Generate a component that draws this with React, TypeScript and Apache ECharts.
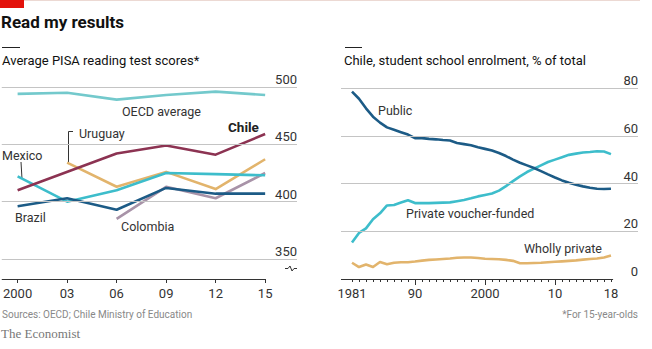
import React, { useEffect, useRef } from 'react';
import * as echarts from 'echarts';

// ---------- Left chart: PISA reading scores ----------
const yearsL = [2000, 2003, 2006, 2009, 2012, 2015];
const oecd = [494, 495, 489, 493, 496, 493];
const chile = [410, null, 442, 449, 441, 459];
const uruguay = [null, 434, 413, 426, 411, 437];
const mexico = [422, 400, 410, 425, 424, 423];
const brazil = [396, 403, 393, 412, 407, 407];
const colombia = [null, null, 385, 413, 403, 425];
const ticksL = [350, 400, 450, 500];

// ---------- Right chart: Chile enrolment ----------
const yearsR = [
  1981, 1982, 1983, 1984, 1985, 1986, 1987, 1988, 1989, 1990,
  1991, 1992, 1993, 1994, 1995, 1996, 1997, 1998, 1999, 2000,
  2001, 2002, 2003, 2004, 2005, 2006, 2007, 2008, 2009, 2010,
  2011, 2012, 2013, 2014, 2015, 2016, 2017, 2018,
];
const publicShare = [
  78.5, 75.5, 71.5, 68.0, 65.5, 63.5, 62.5, 61.5, 60.5, 59.0,
  59.0, 58.7, 58.5, 58.2, 58.0, 57.0, 56.5, 56.0, 55.2, 54.5,
  53.8, 52.8, 51.5, 50.0, 48.7, 47.6, 46.5, 45.2, 43.8, 42.5,
  41.3, 40.3, 39.5, 38.8, 38.2, 37.8, 37.7, 37.8,
];
const voucherShare = [
  15.3, 19.3, 21.2, 25.0, 27.5, 30.8, 31.0, 32.0, 33.0, 31.8,
  31.8, 31.8, 31.9, 32.0, 32.1, 32.6, 33.1, 33.8, 34.6, 35.2,
  35.8, 37.0, 38.9, 41.0, 43.0, 44.8, 46.2, 47.6, 49.0, 50.0,
  51.0, 52.0, 52.5, 53.0, 53.2, 53.5, 53.4, 52.3,
];
const privateShare = [
  6.8, 5.0, 6.1, 5.0, 7.1, 6.2, 6.8, 7.0, 7.0, 7.3,
  7.7, 8.0, 8.2, 8.4, 8.6, 8.9, 9.0, 9.0, 8.8, 8.5,
  8.4, 8.3, 8.0, 7.6, 6.6, 6.6, 6.7, 6.8, 7.0, 7.2,
  7.4, 7.6, 7.8, 8.1, 8.4, 8.6, 9.0, 9.8,
];
const ticksR = [0, 20, 40, 60, 80];
const labelYearsR = [1981, 1990, 2000, 2010, 2018];
const majorYearsR = [1990, 2000, 2010];

const FONT = 'Roboto, "Noto Sans", sans-serif';

const C_CHILE = '#8c3352';
const C_CYAN = '#3dbdcb';
const C_OECD = '#73c9cc';
const C_BLUE = '#1c5b86';
const C_TAN = '#e2b46c';
const C_MAUVE = '#a893a8';

const L_XMIN = 1999.04;
const L_XMAX = 2016.93;
const L_YMIN = 332.6;
const R_XMIN = 1979.43;
const R_XMAX = 2021.86;

const pairs = (xs: number[], ys: (number | null)[]) =>
  xs.map((x, i) => [x, ys[i]]).filter((p) => p[1] !== null);

const lineSeries = (name: string, data: any[], color: string, xi: number, yi: number, extra: any = {}) => ({
  name,
  type: 'line',
  xAxisIndex: xi,
  yAxisIndex: yi,
  data,
  symbol: 'none',
  silent: true,
  lineStyle: { color, width: 2.6, join: 'round' },
  ...extra,
});

const fmtL = (v: number) => (v === 2000 ? '2000' : String(v % 100).padStart(2, '0'));
const fmtR = (v: number) => (v === 1981 || v === 2000 ? String(v) : String(v % 100).padStart(2, '0'));

const txt = (text: string, x: number, y: number, extra: any = {}) => ({
  type: 'text',
  x,
  y,
  silent: true,
  style: {
    text,
    fill: '#222',
    font: `12.5px ${FONT}`,
    textVerticalAlign: 'middle',
    ...extra,
  },
});

const axisLabelStyle = { color: '#333', fontSize: 13, fontFamily: FONT };

const option: any = {
  animation: false,
  backgroundColor: '#ffffff',
  textStyle: { fontFamily: FONT },
  grid: [
    { left: 0, top: 87, width: 297, height: 192 },
    { left: 341, top: 88, width: 297, height: 191 },
  ],
  xAxis: [
    {
      gridIndex: 0,
      type: 'value',
      min: L_XMIN,
      max: L_XMAX,
      position: 'bottom',
      axisLine: { show: false },
      splitLine: { show: false },
      axisTick: { show: true, customValues: yearsL, length: 4, lineStyle: { color: '#333' } },
      axisLabel: { customValues: yearsL, formatter: fmtL, margin: 8, ...axisLabelStyle },
    },
    {
      gridIndex: 1,
      type: 'value',
      min: R_XMIN,
      max: R_XMAX,
      position: 'bottom',
      offset: 0,
      axisLine: { show: false },
      splitLine: { show: false },
      axisTick: { show: true, customValues: yearsR, length: 3, lineStyle: { color: '#333' } },
      axisLabel: { show: false },
    },
    {
      gridIndex: 1,
      type: 'value',
      min: R_XMIN,
      max: R_XMAX,
      position: 'bottom',
      offset: 0,
      axisLine: { show: false },
      splitLine: { show: false },
      axisTick: { show: true, customValues: majorYearsR, length: 6, lineStyle: { color: '#333' } },
      axisLabel: { customValues: labelYearsR, formatter: fmtR, margin: 8, ...axisLabelStyle },
    },
  ],
  yAxis: [
    {
      gridIndex: 0,
      type: 'value',
      min: L_YMIN,
      max: 500,
      position: 'right',
      axisLine: { show: false },
      axisTick: { show: false },
      splitLine: { show: false },
      axisLabel: {
        customValues: ticksL,
        inside: true,
        margin: 0,
        align: 'right',
        verticalAlign: 'bottom',
        padding: [0, 0, 1, 0],
        ...axisLabelStyle,
      },
    },
    {
      gridIndex: 1,
      type: 'value',
      min: 0,
      max: 80,
      interval: 20,
      position: 'right',
      axisLine: { show: false },
      axisTick: { show: false },
      splitLine: { show: false },
      axisLabel: {
        customValues: ticksR,
        inside: true,
        margin: 0,
        align: 'right',
        verticalAlign: 'bottom',
        padding: [0, 0, 1, 0],
        ...axisLabelStyle,
      },
    },
  ],
  series: [
    lineSeries('OECD average', pairs(yearsL, oecd), C_OECD, 0, 0, {
      markLine: {
        silent: true,
        symbol: 'none',
        label: { show: false },
        lineStyle: { color: '#c4c4c4', width: 1, type: 'solid' },
        data: [
          ...ticksL.map((v) => ({ yAxis: v })),
          [
            { coord: [L_XMIN, L_YMIN], lineStyle: { color: '#333', width: 1, type: 'solid' } },
            { coord: [2015, L_YMIN] },
          ],
        ],
      },
    }),
    lineSeries('Colombia', pairs(yearsL, colombia), C_MAUVE, 0, 0),
    lineSeries('Uruguay', pairs(yearsL, uruguay), C_TAN, 0, 0),
    lineSeries('Mexico', pairs(yearsL, mexico), C_CYAN, 0, 0),
    lineSeries('Brazil', pairs(yearsL, brazil), C_BLUE, 0, 0),
    lineSeries('Chile', pairs(yearsL, chile), C_CHILE, 0, 0),
    lineSeries('Wholly private', pairs(yearsR, privateShare), C_TAN, 1, 1, {
      markLine: {
        silent: true,
        symbol: 'none',
        label: { show: false },
        lineStyle: { color: '#c4c4c4', width: 1, type: 'solid' },
        data: [
          ...ticksR.filter((v) => v > 0).map((v) => ({ yAxis: v })),
          [
            { coord: [R_XMIN, 0], lineStyle: { color: '#333', width: 1, type: 'solid' } },
            { coord: [2018.3, 0] },
          ],
        ],
      },
    }),
    lineSeries('Private voucher-funded', pairs(yearsR, voucherShare), C_CYAN, 1, 1),
    lineSeries('Public', pairs(yearsR, publicShare), C_BLUE, 1, 1),
  ],
  graphic: [
    { type: 'rect', silent: true, shape: { x: 0, y: 0, width: 24, height: 8 }, style: { fill: '#e3120b' } },
    { type: 'line', silent: true, shape: { x1: 24, y1: 0.5, x2: 640, y2: 0.5 }, style: { stroke: '#ecd9d3', lineWidth: 1 } },
    { type: 'line', silent: true, shape: { x1: 2, y1: 47.5, x2: 20, y2: 47.5 }, style: { stroke: '#222', lineWidth: 1 } },
    { type: 'line', silent: true, shape: { x1: 345, y1: 47.5, x2: 362, y2: 47.5 }, style: { stroke: '#222', lineWidth: 1 } },
    txt('Read my results', 1, 22, { font: `bold 17px ${FONT}`, fill: '#111' }),
    txt('Average PISA reading test scores*', 2, 60, { font: `13px ${FONT}`, fill: '#111' }),
    txt('Chile, student school enrolment, % of total', 344, 60, { font: `13px ${FONT}`, fill: '#111' }),
    txt('OECD average', 122, 111, { fill: '#333' }),
    txt('Chile', 228, 127, { font: `bold 13.5px ${FONT}`, fill: '#222' }),
    txt('Uruguay', 79, 133, { fill: '#333' }),
    txt('Mexico', 2, 155, { fill: '#333' }),
    txt('Brazil', 15, 217, { fill: '#333' }),
    txt('Colombia', 121, 226, { fill: '#333' }),
    txt('Public', 378, 110, { fill: '#333' }),
    txt('Private voucher-funded', 406, 213, { fill: '#333' }),
    txt('Wholly private', 524, 248, { fill: '#333' }),
    txt('Sources: OECD; Chile Ministry of Education', 2, 314, { font: `10px ${FONT}`, fill: '#888' }),
    txt('*For 15-year-olds', 638, 314, { font: `10px ${FONT}`, fill: '#888', textAlign: 'right' }),
    txt('The Economist', 1, 333, { font: `13px "Liberation Serif", "DejaVu Serif", serif`, fill: '#777' }),
    {
      type: 'polyline',
      silent: true,
      shape: { points: [[73, 131.5], [68.5, 131.5], [68.5, 164]] },
      style: { stroke: '#333', lineWidth: 1, fill: 'none' },
    },
    {
      type: 'line',
      silent: true,
      shape: { x1: 21, y1: 162, x2: 22, y2: 179 },
      style: { stroke: '#333', lineWidth: 1 },
    },
    {
      type: 'polyline',
      silent: true,
      shape: { points: [[285, 268.5], [288, 268.5], [290, 266], [292, 271], [294, 268.5], [297, 268.5]] },
      style: { stroke: '#333', lineWidth: 1, fill: 'none' },
    },
  ],
};

export default function App() {
  const ref = useRef<HTMLDivElement>(null);
  useEffect(() => {
    const chart = echarts.init(ref.current!, null, { renderer: 'svg' });
    chart.setOption(option);
    return () => chart.dispose();
  }, []);
  return (
    <div style={{ position: 'fixed', left: 0, top: 0, width: 652, height: 349, background: '#fff' }}>
      <div ref={ref} style={{ width: 652, height: 349 }} />
    </div>
  );
}
